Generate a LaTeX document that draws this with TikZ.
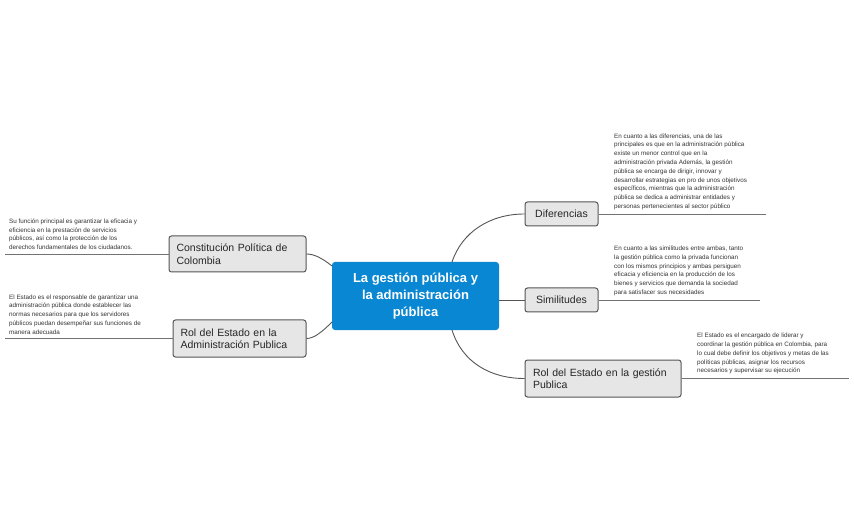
\documentclass[tikz,border=0pt]{standalone}
\usepackage{fontspec}
\setmainfont{Liberation Sans}
\definecolor{cblue}{HTML}{0A87D2}
\definecolor{cgray}{HTML}{E6E6E6}
\definecolor{cline}{HTML}{555555}
\begin{document}
\begin{tikzpicture}[x=1pt,y=-1pt,
  topic/.style={draw=cline,fill=cgray,rounded corners=2.5pt,line width=1pt,font=\fontsize{10.5}{12.5}\selectfont,align=left,inner sep=0pt,text=black!85},
  note/.style={font=\fontsize{6.3}{8.8}\selectfont,align=left,anchor=south west,inner sep=0pt,text=black!80},
  link/.style={draw=cline,line width=0.9pt},
  uline/.style={draw=black!55,line width=0.8pt}]
\useasboundingbox (0,0) rectangle (854,529);
\node[fill=cblue,rounded corners=3pt,minimum width=167pt,minimum height=68pt,text=white,font=\bfseries\fontsize{13}{17}\selectfont,align=center] (c) at (415.5,296) {La gestión pública y\\la administración\\pública};
\node[topic,minimum width=73pt,minimum height=24pt] (d) at (561.5,214) {Diferencias};
\node[topic,minimum width=73pt,minimum height=24pt] (s) at (561.5,300) {Similitudes};
\node[topic,minimum width=156pt,minimum height=37pt,text width=140pt] (g) at (603,378.5) {Rol del Estado en la gestión\\Publica};
\node[topic,minimum width=137pt,minimum height=36pt,text width=122pt] (k) at (237.5,254) {Constitución Política de\\Colombia};
\node[topic,minimum width=133pt,minimum height=37pt,text width=118pt] (r) at (239.5,338.5) {Rol del Estado en la\\Administración Publica};
\coordinate (du) at (766,214);
\coordinate (su) at (760,300);
\coordinate (gu) at (849,378.5);
\coordinate (ku) at (5,254);
\coordinate (ru) at (5,338.5);
\draw[uline] (d.east) -- (du);
\draw[uline] (s.east) -- (su);
\draw[uline] (g.east) -- (gu);
\draw[uline] (k.west) -- (ku);
\draw[uline] (r.west) -- (ru);
\node[note] (dn) at (614,210) {En cuanto a las diferencias, una de las\\principales es que en la administración pública\\existe un menor control que en la\\administración privada Además, la gestión\\pública se encarga de dirigir, innovar y\\desarrollar estrategias en pro de unos objetivos\\específicos, mientras que la administración\\pública se dedica a administrar entidades y\\personas pertenecientes al sector público};
\node[note] (sn) at (614,296) {En cuanto a las similitudes entre ambas, tanto\\la gestión pública como la privada funcionan\\con los mismos principios y ambas persiguen\\eficacia y eficiencia en la producción de los\\bienes y servicios que demanda la sociedad\\para satisfacer sus necesidades};
\node[note] (gn) at (697,374.5) {El Estado es el encargado de liderar y\\coordinar la gestión pública en Colombia, para\\lo cual debe definir los objetivos y metas de las\\políticas públicas, asignar los recursos\\necesarios y supervisar su ejecución};
\node[note] (kn) at (9,250) {Su función principal es garantizar la eficacia y\\eficiencia en la prestación de servicios\\públicos, así como la protección de los\\derechos fundamentales de los ciudadanos.};
\node[note] (rn) at (9,334.5) {El Estado es el responsable de garantizar una\\administración pública donde establecer las\\normas necesarios para que los servidores\\públicos puedan desempeñar sus funciones de\\manera adecuada};
\draw[link] (452,262) .. controls (462,232) and (490,214) .. (d.west);
\draw[link] (c.east |- s.west) -- (s.west);
\draw[link] (452,330) .. controls (462,362) and (490,378.5) .. (g.west);
\draw[link] (332,266) .. controls (322,258) and (314,254) .. (k.east);
\draw[link] (332,322) .. controls (322,332) and (314,338.5) .. (r.east);
\end{tikzpicture}
\end{document}
